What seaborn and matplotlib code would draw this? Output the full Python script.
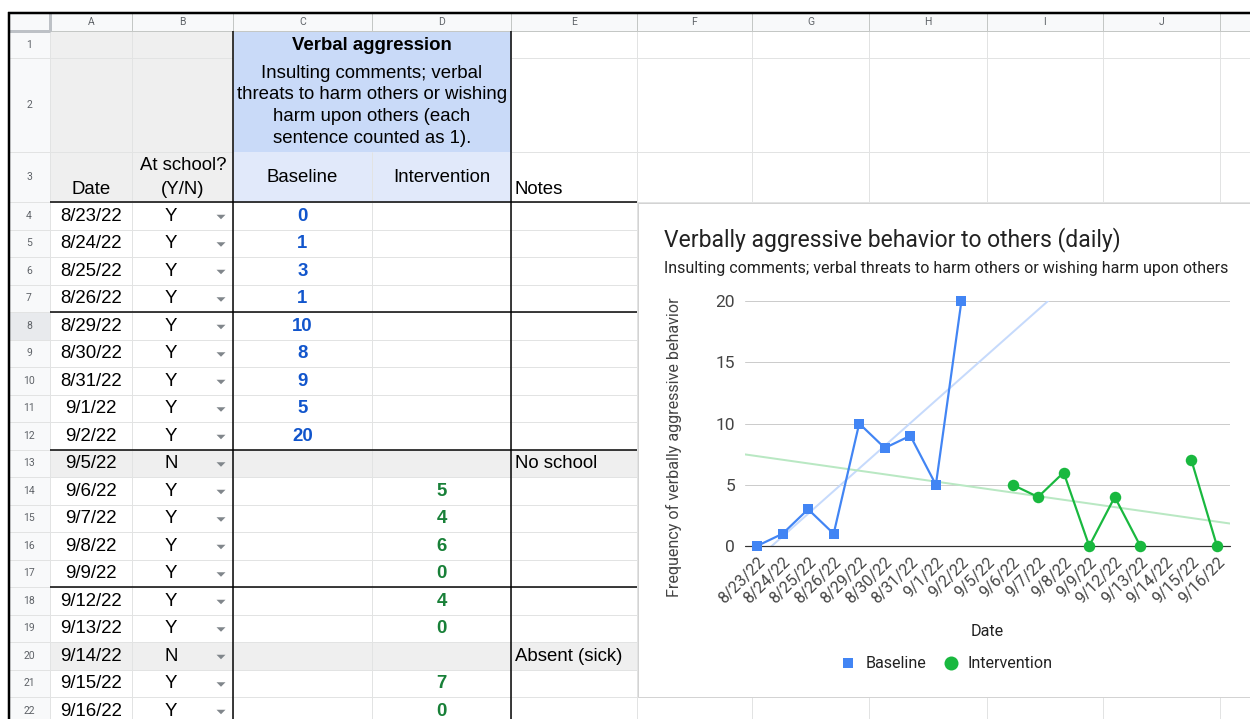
import numpy as np
import pandas as pd
import matplotlib
matplotlib.use("Agg")
import matplotlib.pyplot as plt
import matplotlib.patches as mpatches
from matplotlib.lines import Line2D
import seaborn as sns

# ---------------- data ----------------
dates = ["8/23/22", "8/24/22", "8/25/22", "8/26/22", "8/29/22", "8/30/22",
         "8/31/22", "9/1/22", "9/2/22", "9/5/22", "9/6/22", "9/7/22",
         "9/8/22", "9/9/22", "9/12/22", "9/13/22", "9/14/22", "9/15/22",
         "9/16/22"]
at_school = ["Y", "Y", "Y", "Y", "Y", "Y", "Y", "Y", "Y", "N",
             "Y", "Y", "Y", "Y", "Y", "Y", "N", "Y", "Y"]
baseline = [0, 1, 3, 1, 10, 8, 9, 5, 20,
            None, None, None, None, None, None, None, None, None, None]
intervention = [None, None, None, None, None, None, None, None, None, None,
                5, 4, 6, 0, 4, 0, None, 7, 0]
notes = ["", "", "", "", "", "", "", "", "", "No school",
         "", "", "", "", "", "", "Absent (sick)", "", ""]

col_letters = ["A", "B", "C", "D", "E", "F", "G", "H", "I", "J"]
header_title = "Verbal aggression"
header_desc = ["Insulting comments; verbal", "threats to harm others or wishing",
               "harm upon others (each", "sentence counted as 1)."]
hdr_date = "Date"
hdr_school = ["At school?", "(Y/N)"]
hdr_base = "Baseline"
hdr_int = "Intervention"
hdr_notes = "Notes"

chart_title = "Verbally aggressive behavior to others (daily)"
chart_sub = "Insulting comments; verbal threats to harm others or wishing harm upon others"
x_label = "Date"
y_label = "Frequency of verbally aggressive behavior"
y_ticks = [0, 5, 10, 15, 20]

# ---------------- style ----------------
sns.set_theme(style="white")
plt.rcParams["font.family"] = ["Roboto", "DejaVu Sans"]

BLUE = "#4285f4"
GREEN = "#19b83f"
BLUE_T = "#c6dafc"
GREEN_T = "#b9e8c3"
SHEET_FONT = ["Liberation Sans", "DejaVu Sans"]
FS = 13.4
PX = 0.72  # points per pixel

fig = plt.figure(figsize=(12.5, 7.19), dpi=100)
bg = fig.add_axes([0, 0, 1, 1])
bg.set_xlim(0, 1250)
bg.set_ylim(719, 0)
bg.axis("off")
bg.set_zorder(0)


def rect(x0, y0, x1, y1, fc, ec="none", lw=0, z=1):
    bg.add_patch(mpatches.Rectangle((x0, y0), x1 - x0, y1 - y0, facecolor=fc,
                                    edgecolor=ec, linewidth=lw, zorder=z))


def seg(x0, y0, x1, y1, color, lw, z=2):
    bg.plot([x0, x1], [y0, y1], color=color, lw=lw * PX, zorder=z,
            solid_capstyle="butt")


def ctext(x, y, s, ha="center", size=FS, color="#000000", weight="normal",
          family=None, z=5):
    bg.text(x, y, s, ha=ha, va="center", fontsize=size, color=color,
            fontweight=weight, family=family or SHEET_FONT, zorder=z)


# geometry of the sheet
col_edges = [8, 50, 132, 233, 372, 511, 637, 752, 869, 987, 1103, 1220, 1262]
ROW_H = 27.5
row_top = {1: 31, 2: 58, 3: 152}
row_bot = {1: 58, 2: 152, 3: 202}
for r in range(4, 23):
    row_top[r] = 202 + (r - 4) * ROW_H
    row_bot[r] = row_top[r] + ROW_H


def rc(r):
    return (row_top[r] + row_bot[r]) / 2


# fills
rect(0, 0, 1250, 719, "white", z=0)
rect(8, 12, 1262, 31, "#f8f9fa", z=1)
rect(8, 31, 50, 719, "#f8f9fa", z=1)
rect(8, row_top[8], 50, row_bot[8], "#e8eaed", z=1)
rect(50, 31, 233, 202, "#efefef", z=1)
rect(233, 31, 511, 152, "#c9daf8", z=1)
rect(233, 152, 511, 202, "#e1e9fa", z=1)
for i, s in enumerate(at_school):
    if s == "N":
        r = i + 4
        rect(50, row_top[r], 637, row_bot[r], "#efefef", z=1)

# grid lines
GRID = "#e2e3e3"
HGRID = "#c4c7c5"
for x in col_edges[1:]:
    seg(x, 12, x, 31, HGRID, 1)
for x in col_edges[1:]:
    if x == 372:
        seg(x, 152, x, 719, GRID, 1)
    else:
        seg(x, 31, x, 719, GRID, 1)
for r in range(1, 23):
    y = row_bot[r]
    if r in (1, 2):
        seg(50, y, 233, y, GRID, 1)
        seg(511, y, 1262, y, GRID, 1)
    else:
        seg(50, y, 1262, y, GRID, 1)
    seg(8, y, 50, y, GRID, 1)
seg(8, 31, 1262, 31, HGRID, 1)
seg(50, 12, 50, 31, "#bdc1c6", 3, z=3)
seg(8, 31, 50, 31, "#bdc1c6", 3, z=3)

# thick black borders
for x in (233, 511):
    seg(x, 31, x, 719, "#000000", 1.5, z=4)
for r in (3, 7, 12, 17):
    seg(50, row_bot[r], 637, row_bot[r], "#000000", 1.5, z=4)
seg(8, 12.5, 1262, 12.5, "#000000", 2.5, z=4)
seg(8.5, 12, 8.5, 719, "#000000", 2.5, z=4)

# column letters and row numbers
for i, L in enumerate(col_letters):
    cx = (col_edges[i + 1] + col_edges[i + 2]) / 2
    ctext(cx, 22, L, size=7.5, color="#5f6368", family=["Roboto", "DejaVu Sans"])
for r in range(1, 23):
    ctext(29, rc(r), str(r), size=7.5, color="#5f6368",
          family=["Roboto", "DejaVu Sans"])

# header cells
ctext(372, 45, header_title, weight="bold")
for k, line in enumerate(header_desc):
    ctext(372, 73 + k * 21.7, line)
ctext(91, 189, hdr_date)
ctext(183, 166, hdr_school[0])
ctext(183, 189, hdr_school[1])
ctext(302.5, 177, hdr_base)
ctext(441.5, 177, hdr_int)
ctext(515, 189, hdr_notes, ha="left")

# data rows
for i, d in enumerate(dates):
    r = i + 4
    y = rc(r) + 0.5
    ctext(91, y, d)
    ctext(171, y, at_school[i])
    ay = rc(r) + 1
    bg.add_patch(mpatches.Polygon([[216.5, ay - 2], [225.5, ay - 2], [221, ay + 2.5]],
                                  closed=True, facecolor="#80868b",
                                  edgecolor="none", zorder=5))
    if baseline[i] is not None:
        ctext(302.5, y, str(baseline[i]), weight="bold", color="#1155cc")
    if intervention[i] is not None:
        ctext(441.5, y, str(intervention[i]), weight="bold", color="#188038")
    if notes[i]:
        ctext(515, y, notes[i], ha="left")

# chart card
rect(638, 203, 1262, 697, "white", ec="#d3d3d3", lw=1 * PX, z=6)
bg.text(664, 240, chart_title, ha="left", va="center", fontsize=16.5,
        color="#222222", zorder=7)
bg.text(664, 268, chart_sub, ha="left", va="center", fontsize=11.5,
        color="#222222", zorder=7)

# ---------------- chart ----------------
ax = fig.add_axes([745 / 1250, (719 - 546) / 719, 485 / 1250, 245 / 719])
ax.set_zorder(3)
ax.patch.set_alpha(0)

records = []
segment = 0
for phase, vals in (("Baseline", baseline), ("Intervention", intervention)):
    gap = True
    for i, v in enumerate(vals):
        if v is None:
            gap = True
            continue
        if gap:
            segment += 1
            gap = False
        records.append({"idx": i, "value": v, "phase": phase, "seg": segment})
df = pd.DataFrame(records)

ax.set_xlim(-0.47, 18.51)
ax.set_ylim(0, 20)

for phase, col in (("Baseline", BLUE_T), ("Intervention", GREEN_T)):
    sub = df[df["phase"] == phase]
    sns.regplot(data=sub, x="idx", y="value", scatter=False, ci=None,
                truncate=False, ax=ax,
                line_kws={"color": col, "lw": 2 * PX, "zorder": 1})

sns.lineplot(data=df, x="idx", y="value", hue="phase", style="phase",
             units="seg", estimator=None, sort=True,
             markers={"Baseline": "s", "Intervention": "o"}, dashes=False,
             palette={"Baseline": BLUE, "Intervention": GREEN},
             linewidth=2.2 * PX, markeredgewidth=0, clip_on=False,
             legend=False, ax=ax, zorder=4)
for ln in ax.lines:
    if ln.get_marker() == "s":
        ln.set_markersize(10 * PX)
    elif ln.get_marker() == "o":
        ln.set_markersize(11.5 * PX)

ax.set_xlim(-0.47, 18.51)
ax.set_ylim(0, 20)
ax.axhline(0, color="#333333", lw=1.2 * PX, zorder=2, clip_on=False)
ax.set_yticks(y_ticks)
ax.set_yticklabels([str(t) for t in y_ticks])
ax.set_xticks(np.arange(len(dates)))
ax.set_xticklabels(dates)
ax.yaxis.grid(True, color="#cccccc", lw=1 * PX)
ax.xaxis.grid(False)
ax.set_axisbelow(True)
for s in ax.spines.values():
    s.set_visible(False)
ax.tick_params(axis="y", length=0, pad=10 * PX, labelsize=12.5, labelcolor="#444444")
ax.tick_params(axis="x", length=0, pad=6, labelsize=11.6, labelcolor="#444444")
for lab in ax.get_xticklabels():
    lab.set_rotation(45)
    lab.set_ha("right")
    lab.set_rotation_mode("anchor")

ax.set_xlabel(x_label, fontsize=11.6, color="#222222")
ax.set_ylabel(y_label, fontsize=11.6, color="#444444")
ax.xaxis.set_label_coords((987 - 745) / 485, (546 - 624) / 245)
ax.yaxis.set_label_coords((682 - 745) / 485, (546 - 447) / 245)

handles = [Line2D([], [], marker="s", color=BLUE, ls="none", ms=10 * PX, mew=0),
           Line2D([], [], marker="o", color=GREEN, ls="none", ms=14 * PX, mew=0)]
leg = fig.legend(handles, ["Baseline", "Intervention"], loc="center",
                 bbox_to_anchor=(946.5 / 1250, 1 - 664 / 719), ncol=2,
                 frameon=False, fontsize=11.6, handlelength=1.0,
                 handletextpad=0.55, columnspacing=1.05, borderpad=0)
for t in leg.get_texts():
    t.set_color("#222222")

fig.savefig("out.png", dpi=100)
